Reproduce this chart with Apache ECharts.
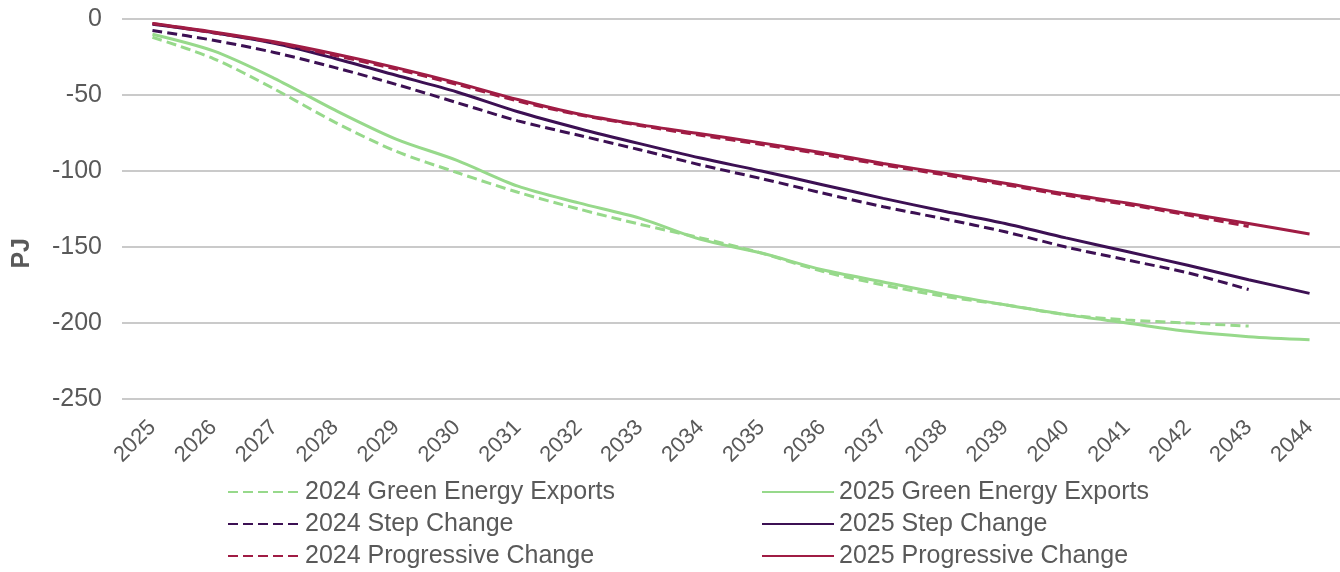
<!DOCTYPE html>
<html>
<head>
<meta charset="utf-8">
<script src="https://cdn.jsdelivr.net/npm/echarts@6/dist/echarts.min.js"></script>
<style>
html,body{margin:0;padding:0;background:#fff;}
#chart{width:1340px;height:572px;}
</style>
</head>
<body>
<div id="chart"></div>
<script>
const years = ['2025','2026','2027','2028','2029','2030','2031','2032','2033','2034','2035','2036','2037','2038','2039','2040','2041','2042','2043','2044'];
const yTicks = [0, -50, -100, -150, -200, -250];

const ge2024 = [-12, -26, -46, -68, -87, -101, -114, -125, -135, -144, -154, -166, -175, -182.5, -188, -194.5, -198, -200, -202];
const ge2025 = [-10, -21, -39, -60, -79, -93, -110, -121, -131, -145, -154, -165, -173, -181, -188, -194.5, -200, -205.5, -209, -211];
const step2024 = [-7.5, -14, -22, -32, -43, -55, -67, -76.5, -86, -96, -105, -114.5, -123.5, -131.5, -140, -150, -158.5, -167, -178];
const step2025 = [-3.5, -9, -16, -26, -37, -48, -61, -72, -82, -91.5, -100, -109, -118, -126.5, -134.5, -144, -153, -162, -171.5, -180.5];
const prog2024 = [-3, -9, -15.5, -24, -33, -43, -54, -63, -70, -76.5, -82.5, -89, -96, -102.5, -109, -116, -122, -129, -136.5];
const prog2025 = [-3, -8.5, -15, -23, -32, -42, -53, -62.5, -69.5, -75.5, -81.5, -88, -95, -101.5, -108, -115, -121, -128, -134.5, -141.5];

const names = ['2024 Green Energy Exports','2025 Green Energy Exports','2024 Step Change','2025 Step Change','2024 Progressive Change','2025 Progressive Change'];
const values = [ge2024, ge2025, step2024, step2025, prog2024, prog2025];
const colors = ['#97D98B','#97D98B','#3C1053','#3C1053','#A01C44','#A01C44'];
const dashed = [true,false,true,false,true,false];

const FONT = '"Liberation Sans", Arial, sans-serif';
const TXT = '#595959';

const chart = echarts.init(document.getElementById('chart'), null, {renderer:'canvas'});

const series = names.map((n,i)=>({
  name: n,
  type: 'line',
  data: values[i],
  symbol: 'none',
  showSymbol: false,
  smooth: 0.3,
  color: colors[i],
  lineStyle: {color: colors[i], width: 3, type: dashed[i] ? [10,5] : 'solid', cap: 'butt'},
  z: 2 + i,
  animation: false
}));

const legendPos = [
  {left:227, top:479}, {left:761, top:479},
  {left:227, top:511}, {left:761, top:511},
  {left:227, top:543}, {left:761, top:543}
];
const legends = names.map((n,i)=>({
  data:[n],
  left: legendPos[i].left,
  top: legendPos[i].top,
  padding:0,
  orient:'horizontal',
  itemWidth:72,
  itemHeight:14,
  itemGap:6,
  selectedMode:false,
  itemStyle:{opacity:0},
  textStyle:{fontFamily:FONT, fontSize:25, color:TXT, lineHeight:26}
}));

chart.setOption({
  animation:false,
  backgroundColor:'#fff',
  grid:{left:122, right:0, top:19, bottom:173, containLabel:false},
  legend: legends,
  graphic:[{
    type:'text',
    left: 10, top: 238,
    rotation: Math.PI/2,
    style:{text:'PJ', font:'bold 25px "Liberation Sans", Arial, sans-serif', fill:TXT}
  }],
  xAxis:{
    type:'category',
    data: years,
    boundaryGap:true,
    axisLine:{show:false},
    axisTick:{show:false},
    axisLabel:{rotate:45, fontSize:22, fontFamily:FONT, color:TXT, margin:25, interval:0}
  },
  yAxis:{
    type:'value',
    min:-250, max:0, interval:50,
    axisLine:{show:false},
    axisTick:{show:false},
    axisLabel:{fontSize:25, fontFamily:FONT, color:TXT, margin:20,
      formatter: v => yTicks.includes(v) ? String(v) : ''},
    splitLine:{lineStyle:{color:'#CACACA', width:2}}
  },
  series: series
});
</script>
</body>
</html>
